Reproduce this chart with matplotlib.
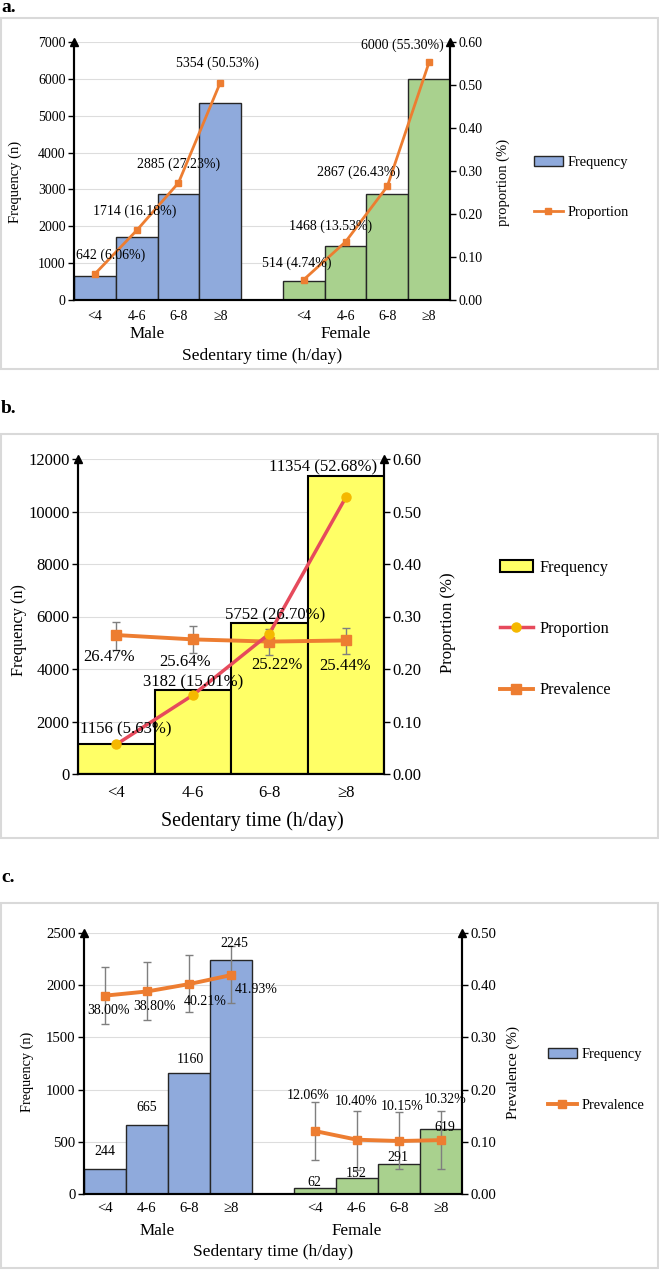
import numpy as np
import matplotlib
matplotlib.use("Agg")
import matplotlib.pyplot as plt
from matplotlib.patches import Rectangle, Patch
from matplotlib.lines import Line2D
from matplotlib.ticker import FormatStrFormatter

plt.rcParams['font.family'] = ['Liberation Serif', 'DejaVu Serif']

# ---------------- data ----------------
time_groups = ["<4", "4-6", "6-8", "≥8"]
sex_groups = ["Male", "Female"]

# a. frequency and proportion by sex
a_male_n = [642, 1714, 2885, 5354]
a_male_pct = [6.06, 16.18, 27.23, 50.53]
a_female_n = [514, 1468, 2867, 6000]
a_female_pct = [4.74, 13.53, 26.43, 55.30]

# b. total sample
b_n = [1156, 3182, 5752, 11354]
b_pct = [5.63, 15.01, 26.70, 52.68]
b_prev = [26.47, 25.64, 25.22, 25.44]
b_prev_lo = [23.7, 23.1, 22.7, 22.9]
b_prev_hi = [29.0, 28.1, 27.6, 27.9]

# c. cases and prevalence by sex
c_male_n = [244, 665, 1160, 2245]
c_female_n = [62, 152, 291, 619]
c_male_prev = [38.00, 38.80, 40.21, 41.93]
c_female_prev = [12.06, 10.40, 10.15, 10.32]
c_male_lo = [32.6, 33.3, 34.9, 36.6]
c_male_hi = [43.5, 44.4, 45.8, 47.5]
c_female_lo = [6.5, 4.6, 4.8, 4.8]
c_female_hi = [17.6, 15.9, 15.7, 15.9]

# ---------------- style ----------------
BLUE = '#8FAADC'
GREEN = '#A9D18E'
YELLOW = '#FFFF66'
ORANGE = '#ED7D31'
RED = '#E64A5C'
GOLD = '#F5B800'
GREY = '#7F7F7F'

W, H = 659, 1270
PT = 0.72  # points per pixel at dpi 100

fig = plt.figure(figsize=(W / 100, H / 100), dpi=100)


def px_axes(left, top, right, bottom):
    return fig.add_axes([left / W, 1 - bottom / H, (right - left) / W, (bottom - top) / H])


def frame(top, bottom):
    fig.add_artist(Rectangle((0.5 / W, 1 - bottom / H), 657.5 / W, (bottom - top) / H,
                             transform=fig.transFigure, fill=False, ec='#D9D9D9', lw=1.5))


def style_pair(ax, ax2, ymax, ystep, y2max, fs, xpad):
    ax.set_ylim(0, ymax)
    ax.set_yticks(np.arange(0, ymax + 1, ystep))
    ax2.set_ylim(0, y2max)
    ax2.set_yticks(np.arange(0, y2max + 1e-9, 0.1))
    ax2.yaxis.set_major_formatter(FormatStrFormatter('%.2f'))
    ax.grid(axis='y', color='#DDDDDD', lw=0.8)
    ax.set_axisbelow(True)
    for a in (ax, ax2):
        a.spines['top'].set_visible(False)
        for s in ('left', 'right', 'bottom'):
            a.spines[s].set_linewidth(1.5)
        a.tick_params(axis='y', direction='out', length=4, width=1, labelsize=fs, pad=2)
    ax.tick_params(axis='x', length=0, labelsize=fs, pad=xpad)
    # arrow heads on both vertical axes
    for xa in (0, 1):
        ax2.plot([xa], [1.0], marker='^', color='black', ms=6,
                 transform=ax2.transAxes, clip_on=False, zorder=10)


def label_points(ax, xs, ys, texts, dx, dy, fs):
    for x, y, t, ox, oy in zip(xs, ys, texts, dx, dy):
        ax.annotate(t, (x, y), xytext=(ox * PT, -oy * PT), textcoords='offset points',
                    ha='center', va='center', fontsize=fs, zorder=12)


def group_labels(ax, centers, dy, fs):
    for c, g in zip(centers, sex_groups):
        ax.annotate(g, (c, 0), xycoords=('data', 'axes fraction'),
                    xytext=(0, -dy * PT), textcoords='offset points',
                    ha='center', va='center', fontsize=fs)


x_m = np.arange(4)
x_f = np.arange(4) + 5

# ================= panel a =================
frame(18, 369)
fig.text(1 / W, 1 - 8 / H, "a.", fontsize=14, fontweight='bold', va='center')
ax = px_axes(74, 42, 450, 300)
ax2 = ax.twinx()
ax.bar(x_m, a_male_n, width=1.0, color=BLUE, edgecolor='#262626', lw=1)
ax.bar(x_f, a_female_n, width=1.0, color=GREEN, edgecolor='#262626', lw=1)
ax.set_xlim(-0.5, 8.5)
ax.set_xticks(np.concatenate([x_m, x_f]))
ax.set_xticklabels(time_groups * 2)
style_pair(ax, ax2, 7000, 1000, 0.6, 10, 7)
pm = np.array(a_male_pct) / 100
pf = np.array(a_female_pct) / 100
ax2.plot(x_m, pm, color=ORANGE, lw=2, marker='s', ms=5)
ax2.plot(x_f, pf, color=ORANGE, lw=2, marker='s', ms=5)
label_points(ax2, x_m, pm, [f"{n} ({p:.2f}%)" for n, p in zip(a_male_n, a_male_pct)],
             [16, -2, 0, -3], [-19, -19, -19, -19], 10)
label_points(ax2, x_f, pf, [f"{n} ({p:.2f}%)" for n, p in zip(a_female_n, a_female_pct)],
             [-7, -15, -29, -27], [-16, -16, -14, -17], 10)
group_labels(ax, [1.25, 6.0], 34, 12.3)
ax.set_xlabel("Sedentary time (h/day)", fontsize=12.6, va='center')
ax.xaxis.set_label_coords(0.5, -56 / 258)
ax.set_ylabel("Frequency (n)", fontsize=10.5, va='center')
ax.yaxis.set_label_coords(-59 / 376, 0.457)
ax2.set_ylabel("proportion (%)", fontsize=10.5, va='center')
ax2.yaxis.set_label_coords(429 / 376, 0.457)
ax2.legend(handles=[Patch(facecolor=BLUE, edgecolor='#262626', lw=1, label='Frequency'),
                    Line2D([], [], color=ORANGE, lw=2, marker='s', ms=5, label='Proportion')],
           loc='center left', bbox_to_anchor=(534 / W, 1 - 187.5 / H),
           bbox_transform=fig.transFigure, frameon=False, fontsize=10.4,
           handlelength=2, handletextpad=0.35, labelspacing=2.6,
           borderpad=0, borderaxespad=0)

# ================= panel b =================
frame(434, 838)
fig.text(1 / W, 1 - 408 / H, "b.", fontsize=14, fontweight='bold', va='center')
ax = px_axes(78, 459, 384, 774)
ax2 = ax.twinx()
xb = np.arange(4)
ax.bar(xb, b_n, width=1.0, color=YELLOW, edgecolor='black', lw=1.5)
ax.set_xlim(-0.5, 3.5)
ax.set_xticks(xb)
ax.set_xticklabels(time_groups)
style_pair(ax, ax2, 12000, 2000, 0.6, 12, 8)
pb = np.array(b_pct) / 100
prev = np.array(b_prev) / 100
lo = np.array(b_prev_lo) / 100
hi = np.array(b_prev_hi) / 100
ax2.errorbar(xb, prev, yerr=[prev - lo, hi - prev], fmt='none', ecolor=GREY,
             elinewidth=1, capsize=3, capthick=1)
ax2.plot(xb, prev, color=ORANGE, lw=2.8, marker='s', ms=6.5)
ax2.plot(xb, pb, color=RED, lw=2.5, marker='o', ms=6.5, mfc=GOLD, mec=GOLD)
bt = np.array(b_n) / 12000 * 0.6
label_points(ax2, xb, bt, [f"{n} ({p:.2f}%)" for n, p in zip(b_n, b_pct)],
             [9, 0, 6, -23], [-14, -8, -8, -9], 12)
label_points(ax2, xb, prev, [f"{p:.2f}%" for p in b_prev],
             [-7, -8, 8, -1], [22, 23, 23, 26], 12)
ax.set_xlabel("Sedentary time (h/day)", fontsize=14.3, va='center')
ax.xaxis.set_label_coords((252 - 78) / 306, -47 / 315)
ax.set_ylabel("Frequency (n)", fontsize=11.7, va='center')
ax.yaxis.set_label_coords(-59 / 306, 0.457)
ax2.set_ylabel("Proportion (%)", fontsize=12, va='center')
ax2.yaxis.set_label_coords(370 / 306, 0.479)
ax2.legend(handles=[Patch(facecolor=YELLOW, edgecolor='black', lw=1.5, label='Frequency'),
                    Line2D([], [], color=RED, lw=2.5, marker='o', ms=6.5, mfc=GOLD, mec=GOLD,
                           label='Proportion'),
                    Line2D([], [], color=ORANGE, lw=2.8, marker='s', ms=6.5, label='Prevalence')],
           loc='center left', bbox_to_anchor=(500 / W, 1 - 629 / H),
           bbox_transform=fig.transFigure, frameon=False, fontsize=11.7,
           handlelength=2, handletextpad=0.45, labelspacing=2.8,
           borderpad=0, borderaxespad=0)

# ================= panel c =================
frame(903, 1268)
fig.text(1 / W, 1 - 877 / H, "c.", fontsize=14, fontweight='bold', va='center')
ax = px_axes(84, 933, 462, 1194)
ax2 = ax.twinx()
ax.bar(x_m, c_male_n, width=1.0, color=BLUE, edgecolor='#262626', lw=1)
ax.bar(x_f, c_female_n, width=1.0, color=GREEN, edgecolor='#262626', lw=1)
ax.set_xlim(-0.5, 8.5)
ax.set_xticks(np.concatenate([x_m, x_f]))
ax.set_xticklabels(time_groups * 2)
style_pair(ax, ax2, 2500, 500, 0.5, 10.6, 6)
for xs, pv, l, h in ((x_m, c_male_prev, c_male_lo, c_male_hi),
                     (x_f, c_female_prev, c_female_lo, c_female_hi)):
    pv = np.array(pv) / 100
    l = np.array(l) / 100
    h = np.array(h) / 100
    ax2.errorbar(xs, pv, yerr=[pv - l, h - pv], fmt='none', ecolor=GREY,
                 elinewidth=1, capsize=3, capthick=1)
    ax2.plot(xs, pv, color=ORANGE, lw=2.8, marker='s', ms=6)
label_points(ax2, x_m, np.array(c_male_n) / 2500 * 0.5, [str(n) for n in c_male_n],
             [0, 0, 1, 3], [-17, -17, -13, -16], 10)
label_points(ax2, x_f, np.array(c_female_n) / 2500 * 0.5, [str(n) for n in c_female_n],
             [-1, -1, -1, 4], [-5, -5, -6, -2], 10)
label_points(ax2, x_m, np.array(c_male_prev) / 100, [f"{p:.2f}%" for p in c_male_prev],
             [3, 7, 16, 25], [15, 15, 17, 14], 10)
label_points(ax2, x_f, np.array(c_female_prev) / 100, [f"{p:.2f}%" for p in c_female_prev],
             [-7, -1, 3, 4], [-36, -38, -35, -41], 10)
group_labels(ax, [1.25, 6.0], 37, 12.3)
ax.set_xlabel("Sedentary time (h/day)", fontsize=12.6, va='center')
ax.xaxis.set_label_coords(0.5, -58 / 261)
ax.set_ylabel("Frequency (n)", fontsize=10.3, va='center')
ax.yaxis.set_label_coords(-57 / 378, 0.467)
ax2.set_ylabel("Prevalence (%)", fontsize=10.9, va='center')
ax2.yaxis.set_label_coords(429 / 378, 0.464)
ax2.legend(handles=[Patch(facecolor=BLUE, edgecolor='#262626', lw=1, label='Frequency'),
                    Line2D([], [], color=ORANGE, lw=2.8, marker='s', ms=6, label='Prevalence')],
           loc='center left', bbox_to_anchor=(548 / W, 1 - 1080 / H),
           bbox_transform=fig.transFigure, frameon=False, fontsize=10.4,
           handlelength=2, handletextpad=0.35, labelspacing=2.6,
           borderpad=0, borderaxespad=0)

fig.savefig("out.png", dpi=100)
